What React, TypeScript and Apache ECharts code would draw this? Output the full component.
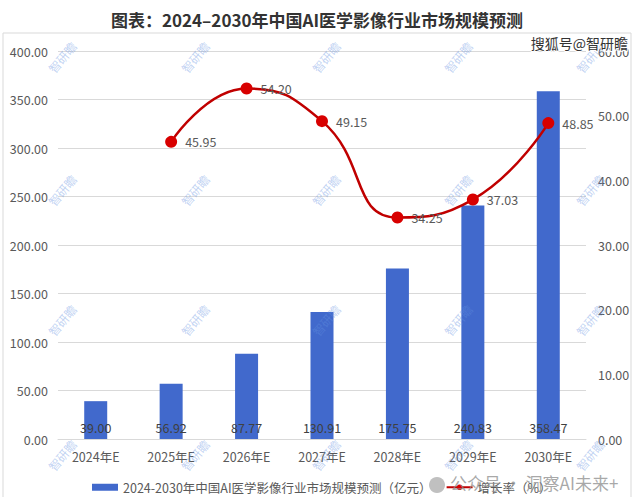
import React, { useEffect, useRef } from "react";
import * as echarts from "echarts";

const categories = ["2024年E", "2025年E", "2026年E", "2027年E", "2028年E", "2029年E", "2030年E"];
const marketSize = [39.0, 56.92, 87.77, 130.91, 175.75, 240.83, 358.47];
const growthRate: (number | null)[] = [null, 45.95, 54.2, 49.15, 34.25, 37.03, 48.85];
const leftTicks = { min: 0, max: 400, interval: 50 };
const rightTicks = { min: 0, max: 60, interval: 10 };
const titleText = "图表：2024–2030年中国AI医学影像行业市场规模预测";
const barName = "2024-2030年中国AI医学影像行业市场规模预测（亿元）";
const lineName = "增长率（%）";
const wmColumns = [62, 195, 326, 458, 590];
const wmRows = [57, 190, 320, 455];

const FONT = "'Noto Sans CJK SC', 'Noto Sans', sans-serif";

export default function App() {
  const ref = useRef<HTMLDivElement>(null);
  useEffect(() => {
    document.body.style.margin = "0";
    if (!ref.current) return;
    const chart = echarts.init(ref.current, undefined, { renderer: "svg" });

    const watermarks: any[] = [];
    wmRows.forEach((y) =>
      wmColumns.forEach((x) => {
        watermarks.push({
          type: "text",
          x,
          y,
          rotation: (50 * Math.PI) / 180,
          z: 100,
          silent: true,
          style: {
            text: "智研瞻",
            fill: "rgba(100,145,225,0.4)",
            font: `12px ${FONT}`,
            align: "center",
            verticalAlign: "middle",
          },
        });
      })
    );

    chart.setOption({
      animation: false,
      backgroundColor: "#ffffff",
      textStyle: { fontFamily: FONT },
      title: {
        text: titleText,
        left: "center",
        top: 6,
        textStyle: { fontSize: 17, fontWeight: "bold", color: "#333333", fontFamily: FONT },
      },
      grid: { left: 58, right: 48, top: 51, bottom: 58, containLabel: false },
      legend: {
        left: 87,
        top: 476,
        itemWidth: 26,
        itemHeight: 7,
        itemGap: 14,
        textStyle: { color: "#595959", fontSize: 12.5, fontFamily: FONT },
        data: [{ name: barName, icon: "rect" }, { name: lineName }],
      },
      xAxis: {
        type: "category",
        data: categories,
        axisTick: { show: false },
        axisLine: { lineStyle: { color: "#d9d9d9" } },
        axisLabel: { color: "#595959", fontSize: 12.5, margin: 11 },
      },
      yAxis: [
        {
          type: "value",
          ...leftTicks,
          axisLabel: {
            color: "#595959",
            fontSize: 12.5,
            margin: 10,
            formatter: (v: number) => v.toFixed(2),
          },
          splitLine: { lineStyle: { color: "#d9d9d9" } },
          axisLine: { show: false },
          axisTick: { show: false },
        },
        {
          type: "value",
          ...rightTicks,
          position: "right",
          axisLabel: {
            color: "#595959",
            fontSize: 12.5,
            margin: 12,
            formatter: (v: number) => v.toFixed(2),
          },
          splitLine: { show: false },
          axisLine: { show: false },
          axisTick: { show: false },
        },
      ],
      series: [
        {
          name: barName,
          type: "bar",
          data: marketSize,
          barWidth: 23,
          itemStyle: { color: "#4169CC" },
          label: {
            show: true,
            position: "insideBottom",
            distance: 5,
            color: "#404040",
            fontSize: 12.5,
            formatter: (p: any) => Number(p.value).toFixed(2),
          },
        },
        {
          name: lineName,
          type: "line",
          yAxisIndex: 1,
          data: growthRate,
          smooth: 0.5,
          symbol: "circle",
          symbolSize: 12,
          lineStyle: { color: "#C00000", width: 2.5 },
          itemStyle: { color: "#D80000" },
          label: {
            show: true,
            position: "right",
            distance: 8,
            color: "#595959",
            fontSize: 12.5,
            formatter: (p: any) => Number(p.value).toFixed(2),
          },
          z: 5,
        },
      ],
      graphic: [
        {
          type: "rect",
          z: -10,
          silent: true,
          shape: { x: 3, y: 33, width: 628, height: 470 },
          style: { fill: "none", stroke: "#d9d9d9", lineWidth: 1 },
        },
        ...watermarks,
        {
          type: "text",
          right: 5,
          top: 35,
          z: 110,
          silent: true,
          style: {
            text: "搜狐号@智研瞻",
            fill: "#333333",
            stroke: "#ffffff",
            lineWidth: 2,
            font: `14px ${FONT}`,
          },
        },
        {
          type: "circle",
          z: 110,
          silent: true,
          shape: { cx: 437, cy: 485, r: 8 },
          style: { fill: "rgba(150,150,150,0.6)" },
        },
        {
          type: "text",
          left: 450,
          top: 474,
          z: 110,
          silent: true,
          style: {
            text: "公众号 · 洞察AI未来+",
            fill: "rgba(140,140,140,0.75)",
            font: `17px ${FONT}`,
          },
        },
      ],
    });
    return () => chart.dispose();
  }, []);
  return <div ref={ref} style={{ width: 634, height: 497 }} />;
}
